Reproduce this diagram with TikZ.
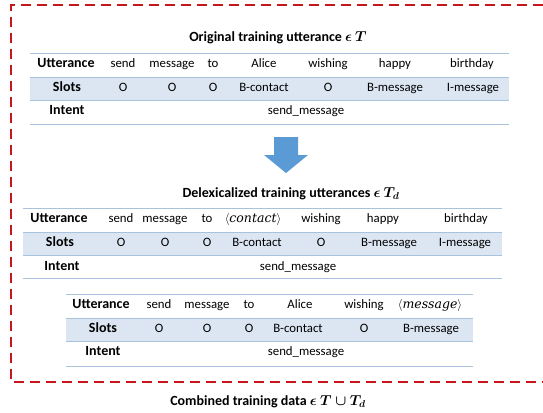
\documentclass[tikz,border=0pt]{standalone}
\usepackage{fontspec}
\setmainfont{Carlito}
\newfontfamily\placefont{DejaVu Serif}

\definecolor{rowblue}{HTML}{DCE6F2}
\definecolor{ruleblue}{HTML}{A9C3DD}
\definecolor{arrowblue}{HTML}{5B9BD5}
\definecolor{framered}{HTML}{C8161E}

% espace réservé (mot délexicalisé)
\newcommand{\placeholder}[1]{$\langle${\placefont\itshape\fontsize{12.5}{14}\selectfont #1}$\rangle$}

\begin{document}
\begin{tikzpicture}[
    x=1pt, y=-1pt,
    frame/.style={framered, line width=2pt, dash pattern=on 10pt off 6pt},
    rule/.style={ruleblue, line width=0.9pt},
    band/.style={fill=rowblue},
    cell/.style={font=\fontsize{12.8}{14}\selectfont, inner sep=1pt, text height=1.6ex, text depth=0.4ex},
    head/.style={cell, font=\bfseries\fontsize{14}{16}\selectfont},
    title/.style={font=\bfseries\boldmath\fontsize{14}{16}\selectfont}
]

\useasboundingbox (0,0) rectangle (543,412);

% Cadre rouge en pointillés (ouvert à droite)
\draw[frame] (543,5) -- (11,5) -- (11,382) -- (543,382);

% Tableau 1 : énoncé original
\node[title] (ta-title) at (278,38) {Original training utterance $\epsilon$ $T$};
\fill[band] (30,77) rectangle (509,100);
\draw[rule] (30,53) -- (509,53);
\draw[rule] (30,77) -- (509,77);
\draw[rule] (30,100) -- (509,100);
\draw[rule] (30,124) -- (509,124);

\node[head] (ta-utt) at (66,65) {Utterance};
\node[head] (ta-slots) at (67,89) {Slots};
\node[head] (ta-intent) at (67,112) {Intent};
\foreach \x/\w [count=\i] in {123/send,172/message,213/to,264/Alice,328/wishing,395/happy,472/birthday}
  \node[cell] (ta-u\i) at (\x,65) {\w};
\foreach \x/\w [count=\i] in {123/O,172/O,213/O,264/B-contact,328/O,395/B-message,473/I-message}
  \node[cell] (ta-s\i) at (\x,89) {\w};
\node[cell] (ta-i) at (306,112) {send\_message};

% Flèche
\fill[arrowblue] (274,137) -- (298,137) -- (298,155) -- (308,155) -- (286,173)
  -- (264,155) -- (274,155) -- cycle;

% Tableau 2 : énoncés délexicalisés
\node[title] (tb-title) at (291,194) {Delexicalized training utterances $\epsilon$ $T_d$};
\fill[band] (23,232) rectangle (502,255);
\draw[rule] (23,208) -- (502,208);
\draw[rule] (23,232) -- (502,232);
\draw[rule] (23,255) -- (502,255);
\draw[rule] (23,278) -- (502,278);

\node[head] (tb-utt) at (59,220) {Utterance};
\node[head] (tb-slots) at (60,244) {Slots};
\node[head] (tb-intent) at (62,268) {Intent};
\foreach \x/\w [count=\i] in {121/send,165/message,207/to,253/\placeholder{contact},321/wishing,383/happy,466/birthday}
  \node[cell] (tb-u\i) at (\x,220) {\w};
\foreach \x/\w [count=\i] in {121/O,165/O,207/O,257/B-contact,321/O,389/B-message,465/I-message}
  \node[cell] (tb-s\i) at (\x,244) {\w};
\node[cell] (tb-i) at (298,268) {send\_message};

% Tableau 3
\fill[band] (66,318) rectangle (473,341);
\draw[rule] (66,294) -- (473,294);
\draw[rule] (66,318) -- (473,318);
\draw[rule] (66,341) -- (473,341);
\draw[rule] (66,366) -- (473,366);

\node[head] (tc-utt) at (101,306) {Utterance};
\node[head] (tc-slots) at (103,330) {Slots};
\node[head] (tc-intent) at (103,353) {Intent};
\foreach \x/\w [count=\i] in {159/send,207/message,249/to,300/Alice,364/wishing,430/\placeholder{message}}
  \node[cell] (tc-u\i) at (\x,306) {\w};
\foreach \x/\w [count=\i] in {159/O,207/O,249/O,298/B-contact,364/O,431/B-message}
  \node[cell] (tc-s\i) at (\x,330) {\w};
\node[cell] (tc-i) at (306,353) {send\_message};

% Légende
\node[title] (caption) at (268,402) {Combined training data $\epsilon$ $T\cup T_d$};

\end{tikzpicture}
\end{document}
